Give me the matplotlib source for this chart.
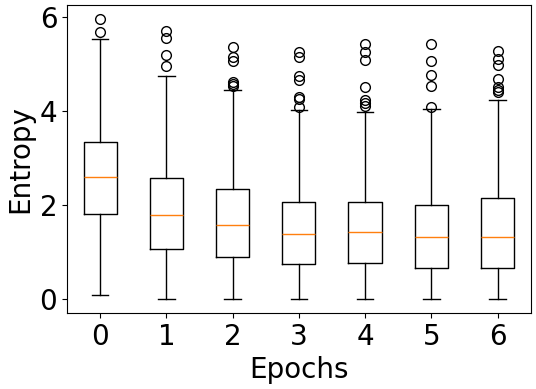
import matplotlib
matplotlib.use("Agg")
import matplotlib.pyplot as plt

# entropy per epoch
epochs = ["0", "1", "2", "3", "4", "5", "6"]
q1 = [1.80, 1.06, 0.89, 0.74, 0.76, 0.66, 0.66]
med = [2.60, 1.78, 1.57, 1.38, 1.42, 1.31, 1.33]
q3 = [3.33, 2.57, 2.33, 2.06, 2.06, 2.01, 2.14]
whislo = [0.08, 0.01, 0.01, 0.0, 0.0, 0.0, 0.0]
whishi = [5.52, 4.74, 4.45, 4.02, 3.97, 4.04, 4.23]
fliers = [
    [5.95, 5.67],
    [5.70, 5.55, 5.18, 4.95],
    [5.36, 5.14, 5.05, 4.62, 4.57, 4.53],
    [5.24, 5.14, 4.74, 4.66, 4.30, 4.25, 4.08],
    [5.43, 5.24, 5.09, 4.50, 4.22, 4.16, 4.11],
    [5.43, 5.06, 4.76, 4.53, 4.09],
    [5.28, 5.10, 4.98, 4.68, 4.50, 4.45, 4.40],
]

stats = []
for i in range(len(epochs)):
    stats.append({"q1": q1[i], "med": med[i], "q3": q3[i],
                  "whislo": whislo[i], "whishi": whishi[i],
                  "fliers": fliers[i], "label": epochs[i]})

fig, ax = plt.subplots(figsize=(5.36, 3.89), dpi=100)
ax.bxp(stats, flierprops=dict(marker="o", markerfacecolor="none",
                              markeredgecolor="black", markersize=7))
ax.set_xlabel("Epochs", fontsize=20)
ax.set_ylabel("Entropy", fontsize=20)
ax.tick_params(labelsize=20)
ax.set_yticks([0, 2, 4, 6])
fig.subplots_adjust(left=0.125, right=0.99, top=0.987, bottom=0.195)
fig.savefig("out.png")
